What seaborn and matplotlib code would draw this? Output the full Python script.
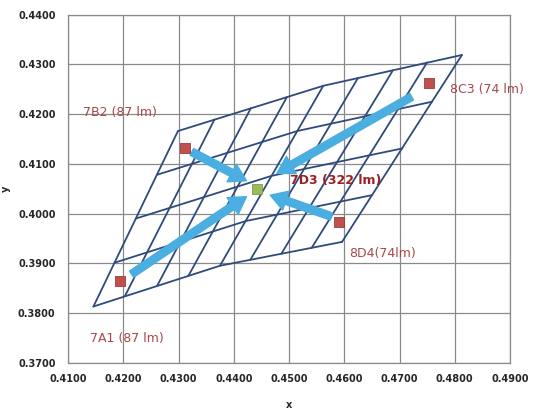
import matplotlib
matplotlib.use("Agg")
import matplotlib.pyplot as plt
import numpy as np
import pandas as pd
import seaborn as sns

# mesh rows: points on left edge, middle boundary, right edge (bottom -> top)
row_left_x = [0.4146, 0.4184, 0.4223, 0.4261, 0.4299]
row_left_y = [0.3813, 0.3901, 0.3990, 0.4078, 0.4166]
row_mid_x = [0.4375, 0.4422, 0.4469, 0.4515, 0.4562]
row_mid_y = [0.3895, 0.3985, 0.4076, 0.4166, 0.4257]
row_right_x = [0.4596, 0.4650, 0.4705, 0.4759, 0.4813]
row_right_y = [0.3943, 0.4037, 0.4131, 0.4225, 0.4319]

# mesh columns: bottom and top end points (left -> right)
col_bot_x = [0.4146, 0.4203, 0.4261, 0.4318, 0.4375, 0.4430, 0.4486, 0.4541, 0.4596]
col_bot_y = [0.3813, 0.3834, 0.3854, 0.3875, 0.3895, 0.3907, 0.3919, 0.3931, 0.3943]
col_top_x = [0.4299, 0.4365, 0.4431, 0.4496, 0.4562, 0.4625, 0.4688, 0.4750, 0.4813]
col_top_y = [0.4166, 0.4189, 0.4212, 0.4234, 0.4257, 0.4273, 0.4288, 0.4304, 0.4319]

# measured LED bins
bin_names = ["7B2 (87 lm)", "7A1 (87 lm)", "8C3 (74 lm)", "8D4(74lm)"]
bin_x = [0.4312, 0.4194, 0.4753, 0.4590]
bin_y = [0.4131, 0.3865, 0.4262, 0.3982]
label_x = [0.4127, 0.4140, 0.4791, 0.4609]
label_y = [0.4203, 0.3749, 0.4250, 0.3920]

# arrows into the mixed point
arrow_tail_x = [0.4324, 0.4215, 0.4722, 0.4577]
arrow_tail_y = [0.4124, 0.3878, 0.4235, 0.3994]
arrow_head_x = [0.4423, 0.4423, 0.4478, 0.4466]
arrow_head_y = [0.4066, 0.4034, 0.4081, 0.4037]

mix_name = "7D3 (322 lm)"
mix_x = [0.4442]
mix_y = [0.4050]
mix_label_x, mix_label_y = 0.4502, 0.4067

x_ticks = [0.41, 0.42, 0.43, 0.44, 0.45, 0.46, 0.47, 0.48, 0.49]
y_ticks = [0.37, 0.38, 0.39, 0.40, 0.41, 0.42, 0.43, 0.44]

MESH = "#2f4b7c"
ARROW = "#4aaee0"
LABEL = "#a8474a"

sns.set_theme(style="whitegrid")
plt.rcParams["font.family"] = ["DejaVu Sans"]

fig = plt.figure(figsize=(5.39, 4.12), dpi=100)
ax = fig.add_axes([0.1262, 0.1197, 0.82, 0.8446])
ax.set_facecolor("white")

# build mesh line table
recs = []
for i in range(len(row_left_x)):
    for px, py in [(row_left_x[i], row_left_y[i]), (row_mid_x[i], row_mid_y[i]), (row_right_x[i], row_right_y[i])]:
        recs.append({"line": f"r{i}", "x": px, "y": py})
for j in range(len(col_bot_x)):
    recs.append({"line": f"c{j}", "x": col_bot_x[j], "y": col_bot_y[j]})
    recs.append({"line": f"c{j}", "x": col_top_x[j], "y": col_top_y[j]})
mesh = pd.DataFrame(recs)

sns.lineplot(data=mesh, x="x", y="y", units="line", estimator=None, sort=False,
             color=MESH, linewidth=1.3, ax=ax, zorder=3)

for tx, ty, hx, hy in zip(arrow_tail_x, arrow_tail_y, arrow_head_x, arrow_head_y):
    ax.annotate("", xy=(hx, hy), xytext=(tx, ty), zorder=4,
                arrowprops=dict(arrowstyle="simple,head_width=1.2,head_length=1.0,tail_width=0.45",
                                color=ARROW, mutation_scale=12, shrinkA=0, shrinkB=0))

pts = pd.DataFrame({"x": bin_x, "y": bin_y})
sns.scatterplot(data=pts, x="x", y="y", marker="s", s=45, color="#c0504d",
                edgecolor="#9b3b39", linewidth=0.6, ax=ax, zorder=5)
sns.scatterplot(x=mix_x, y=mix_y, marker="s", s=55, color="#9bbb59",
                edgecolor="#7f9a48", linewidth=0.6, ax=ax, zorder=5)

for name, lx, ly in zip(bin_names, label_x, label_y):
    ax.text(lx, ly, name, color=LABEL, fontsize=9, ha="left", va="center", zorder=6)
ax.text(mix_label_x, mix_label_y, mix_name, color="#9c1f24", fontsize=9,
        fontweight="bold", ha="left", va="center", zorder=6)

ax.set_xlim(0.41, 0.49)
ax.set_ylim(0.37, 0.44)
ax.set_xticks(x_ticks)
ax.set_yticks(y_ticks)
ax.set_xticklabels([f"{v:.4f}" for v in x_ticks], fontsize=7, fontweight="bold")
ax.set_yticklabels([f"{v:.4f}" for v in y_ticks], fontsize=7, fontweight="bold")
ax.tick_params(axis="x", pad=8, length=0)
ax.tick_params(axis="y", pad=9, length=0)
ax.grid(True, color="#8a8a8a", linewidth=0.9)
for s in ax.spines.values():
    s.set_color("#8a8a8a")
    s.set_linewidth(0.9)
ax.set_xlabel("x", fontsize=7, fontweight="bold", labelpad=12)
ax.set_ylabel("y", fontsize=7, fontweight="bold", labelpad=5)

fig.savefig("out.png", dpi=100)
